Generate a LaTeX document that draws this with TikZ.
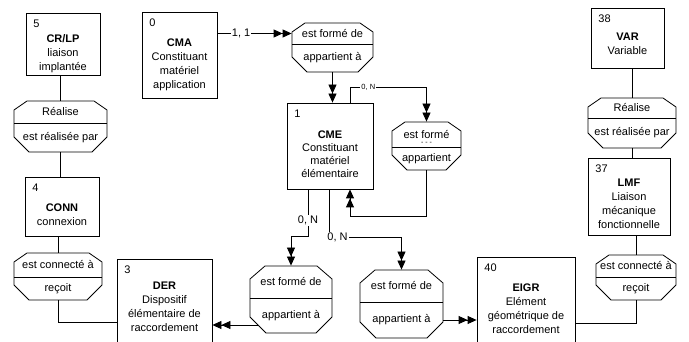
\documentclass[tikz,border=0pt]{standalone}
\usepackage{fontspec}
\setmainfont{Liberation Sans}
\usetikzlibrary{arrows.meta,fit,calc}
\def\octTx{13}\def\octTy{9}\def\octBx{15}\def\octBy{15}
\newcommand\octa[8]{%
  \node[inner sep=0pt, fit={(#2,#3)(#4,#5)}] (#1) {};
  \draw ({#2+\octTx},#3) -- ({#4-\octTx},#3) -- (#4,{#3+\octTy}) -- (#4,{#5-\octBy}) -- ({#4-\octBx},#5) -- ({#2+\octBx},#5) -- (#2,{#5-\octBy}) -- (#2,{#3+\octTy}) -- cycle;
  \draw (#2,#6) -- (#4,#6);
  \node[txt] (#1-t) at ({(#2+#4)/2},{(#3+#6)/2}) {#7};
  \node[txt] (#1-b) at ({(#2+#4)/2},{(#6+#5)/2}) {#8};
}
\newcommand\ent[8]{%
  \node[draw, inner sep=0pt, fit={(#2,#3)(#4,#5)}] (#1) {};
  \node[txt, anchor=west] (#1-n) at ({#2+7},{#3+11}) {#6};
  \node[txt, anchor=north, align=center] (#1-d) at ({(#2+#4)/2},{#3+#7}) {#8};
}
\begin{document}
\begin{tikzpicture}[x=1pt,y=-1pt, line width=0.8pt,
  txt/.style={inner sep=0pt, font=\fontsize{11}{14}\selectfont},
  lbl/.style={fill=white, inner sep=1pt, font=\fontsize{11}{14}\selectfont},
  slbl/.style={fill=white, inner sep=1pt, font=\fontsize{7.5}{9}\selectfont},
  dbl/.style={-{Triangle[length=9pt,width=8pt]Triangle[length=9pt,width=8pt]}}]
\useasboundingbox (0,0) rectangle (689,342);
\fill[white] (0,0) rectangle (689,342);
\clip (0,0) rectangle (689,342);

% entities
\ent{crlp}{26}{13}{100}{75}{5}{21}{\textbf{CR/LP}\\liaison\\implantée}
\ent{cma}{142}{12}{217}{98}{0}{26}{\textbf{CMA}\\Constituant\\matériel\\application}
\ent{cme}{287}{103}{373}{189}{1}{27}{\textbf{CME}\\[-1pt]Constituant\\[-1pt]matériel\\[-1pt]élémentaire}
\ent{var}{591}{8}{664}{68}{38}{25}{\textbf{VAR}\\Variable}
\ent{lmf}{588}{158}{670}{235}{37}{21}{\textbf{LMF}\\Liaison\\mécanique\\fonctionnelle}
\ent{conn}{25}{177}{99}{236}{4}{26}{\textbf{CONN}\\connexion}
\ent{der}{117}{259}{212}{360}{3}{23}{\textbf{DER}\\Dispositif\\élémentaire de\\raccordement}
\ent{eigr}{477}{257}{575}{360}{40}{26}{\textbf{EIGR}\\Elément\\géométrique de\\raccordement}

% relations
\octa{r0}{292}{23}{373}{72}{44}{est formé de}{appartient à}
\octa{r1}{392}{122}{461}{170}{147}{est formé}{appartient}
\node[txt, font=\fontsize{7}{8}\selectfont] (r1-x) at (426.5,143.5) {- - -};
\octa{rl}{14}{101}{107}{152}{123}{Réalise}{est réalisée par}
\octa{rr}{588}{98}{676}{148}{118}{Réalise}{est réalisée par}
\octa{el}{14}{253}{102}{300}{277}{est connecté à}{reçoit}
\octa{er}{596}{255}{676}{300}{277}{est connecté à}{reçoit}
\def\octTx{15}\def\octTy{13}\def\octBx{16}\def\octBy{16}
\octa{r2}{250}{266}{332}{333}{298}{est formé de}{appartient à}
\octa{r3}{360}{270}{443}{338}{302}{est formé de}{appartient à}

% connectors
\draw[dbl] (cma.east |- r0-t) -- node[lbl,pos=0.32]{1, 1} (r0.west |- r0-t);
\draw[dbl] (r0.south) -- (r0.south |- cme.north);
\draw[dbl] ([xshift=20pt]cme.north) -- ++(0,-15) -| node[slbl,pos=0.12]{0, N} (r1.north);
\draw[dbl] (r1.south) -- ++(0,46) -| ([xshift=20pt]cme.south);
\draw[dbl] ([xshift=-22pt]cme.south) -- node[lbl,pos=0.66]{0, N} ++(0,47) -| (r2.north);
\draw[dbl] ([xshift=-1pt]cme.south) -- ++(0,48) node[lbl,anchor=west,xshift=-3pt]{0, N} -| (r3.north);
\coordinate (r2-w) at ([shift={(8,25.5)}]r2.west);
\draw[dbl] (r2-w) -- (r2-w -| der.east);
\coordinate (r3-e) at ([yshift=-16pt]r3.east);
\draw[dbl] (r3-e) -- (r3-e -| eigr.west);

\draw (rl.north |- crlp.south) -- (rl.north);
\draw (rl.south) -- (rl.south |- conn.north);
\draw (el.north |- conn.south) -- (el.north);
\draw (el.south) -- ++(0,22) coordinate (el-c) -- (el-c -| der.west);
\draw (rr.north |- var.south) -- (rr.north);
\draw (rr.south) -- (rr.south |- lmf.north);
\draw (er.north |- lmf.south) -- (er.north);
\draw (er.south) -- ++(0,23) coordinate (er-c) -- (er-c -| eigr.east);
\end{tikzpicture}
\end{document}
